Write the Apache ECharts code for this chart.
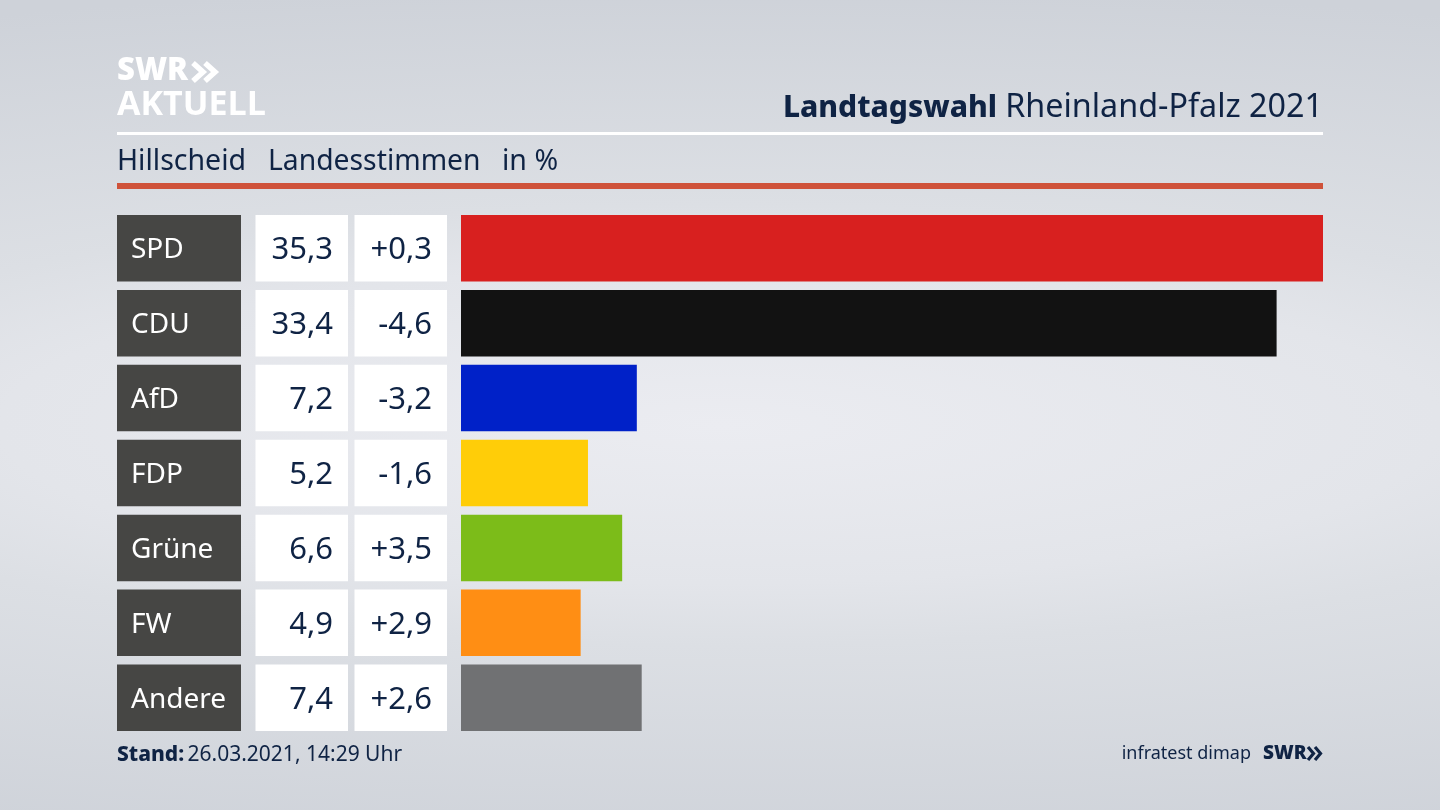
<!DOCTYPE html>
<html><head><meta charset="utf-8">
<style>html,body{margin:0;padding:0;background:#d8dbe1}#c{width:1440px;height:810px}</style>
<script src="https://cdn.jsdelivr.net/npm/echarts@6/dist/echarts.min.js"></script>
</head><body><div id="c"></div>
<script>
const parties = ['SPD','CDU','AfD','FDP','Grüne','FW','Andere'];
const shares = [35.3,33.4,7.2,5.2,6.6,4.9,7.4];
const changes = ['+0,3','-4,6','-3,2','-1,6','+3,5','+2,9','+2,6'];
const colors = ['#d8201f','#121212','#0021c8','#ffcd08','#7cbc19','#ff8e14','#707173'];
const FONT = '"Noto Sans"', NAVY = '#0f2344';
const de = v => v.toFixed(1).replace('.',',');
const shareLabels = shares.map(de);
const ROW_H = 66.5;
function cellAxis(labels, offset, boxW, bg, fg, align, pad, size){
  return {type:'category', inverse:true, position:'left', offset:offset, data:labels,
    axisLine:{show:false}, axisTick:{show:false}, splitLine:{show:false},
    axisLabel:{show:true, interval:0, margin:0, align:'right', verticalAlign:'middle',
      formatter:v=>'{c|'+v+'}',
      rich:{c:{width:boxW-pad[0]-pad[1], height:ROW_H-4, lineHeight:ROW_H-4, padding:[4,pad[1],0,pad[0]],
        backgroundColor:bg, color:fg, fontFamily:FONT, fontSize:size, align:align}}}};
}
const chevrons = (x,y,w,h,gap,lw,col)=>[0,1].map(i=>({type:'polyline',
  shape:{points:[[x+i*gap,y],[x+i*gap+w,y+h/2],[x+i*gap,y+h]]},
  style:{stroke:col,lineWidth:lw,fill:'none'}}));
const chart = echarts.init(document.getElementById('c'),null,{renderer:'canvas'});
chart.setOption({
  animation:false,
  backgroundColor:'#cdd1d8',
  grid:{left:461,right:117,top:210.8,height:524.4,containLabel:false},
  xAxis:{type:'value',min:0,max:35.3,show:false},
  yAxis:[
    cellAxis(parties,220,124,'#464644','#ffffff','left',[14,4],28),
    cellAxis(shareLabels,113,92.5,'#ffffff',NAVY,'right',[4,15],31),
    cellAxis(changes,14,92.5,'#ffffff',NAVY,'right',[4,15],31)
  ],
  series:[{type:'bar',yAxisIndex:0,barWidth:ROW_H,silent:true,
    data:shares.map((v,i)=>({value:v,itemStyle:{color:colors[i]}}))}],
  graphic:[
    {type:'rect',z:-10,x:720,y:425,originX:0,originY:0,scaleX:1,scaleY:0.22,
      shape:{x:-2000,y:-2000,width:4000,height:4000},
      style:{fill:{type:'radial',x:0.5,y:0.5,r:0.5,colorStops:[{offset:0,color:'#ebecf1'},{offset:0.36,color:'#e3e5ea'},{offset:0.5,color:'#dcdfe4'},{offset:1,color:'#ced2d9'}]}}},
    {type:'rect',shape:{x:117,y:132,width:1206,height:3},style:{fill:'#ffffff'}},
    {type:'rect',shape:{x:117,y:183,width:1206,height:6},style:{fill:'#cf523a'}},
    {type:'text',x:117,y:71,style:{text:'SWR',fill:'#fff',font:'800 31px "Open Sans"',textVerticalAlign:'middle'}},
    ...chevrons(193,63,10,18,12,5.5,'#ffffff'),
    {type:'text',x:117,y:105,style:{text:'AKTUELL',fill:'#fff',font:'700 34px "Open Sans"',textVerticalAlign:'middle'}},
    {type:'text',x:997,y:108,style:{text:'Landtagswahl',fill:NAVY,font:'800 30px '+FONT,align:'right',verticalAlign:'middle'}},
    {type:'text',x:1323,y:108,style:{text:'Rheinland-Pfalz 2021',fill:NAVY,font:'32.3px '+FONT,align:'right',verticalAlign:'middle'}},
    {type:'text',x:117,y:162,style:{text:'Hillscheid',fill:NAVY,font:'28.5px '+FONT,textVerticalAlign:'middle'}},
    {type:'text',x:268,y:162,style:{text:'Landesstimmen',fill:NAVY,font:'28.3px '+FONT,textVerticalAlign:'middle'}},
    {type:'text',x:502,y:162,style:{text:'in %',fill:NAVY,font:'28.5px '+FONT,textVerticalAlign:'middle'}},
    {type:'text',x:117,y:755,style:{text:'{b|Stand:} {n|26.03.2021, 14:29 Uhr}',verticalAlign:'middle',
      rich:{b:{fontSize:21,fontWeight:800,fontFamily:FONT,fill:NAVY},n:{fontSize:21,fontFamily:FONT,fill:NAVY}}}},
    {type:'text',x:1251,y:754,style:{text:'infratest dimap',fill:NAVY,font:'18px '+FONT,align:'right',verticalAlign:'middle'}},
    {type:'text',x:1263,y:754,style:{text:'SWR',fill:NAVY,font:'800 19px "Open Sans"',textVerticalAlign:'middle'}},
    ...chevrons(1308,747,5.5,13,7,3.2,NAVY)
  ]
});
</script></body></html>
